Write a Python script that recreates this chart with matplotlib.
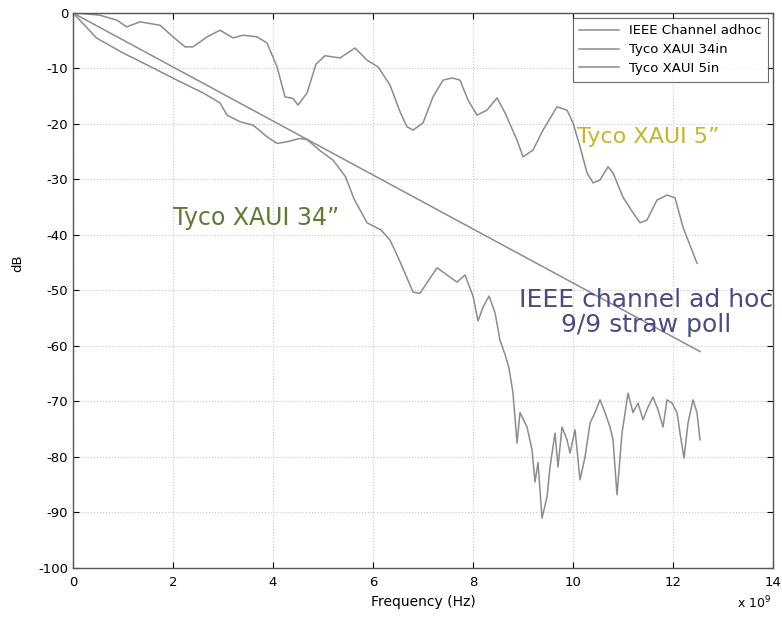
import numpy as np
import matplotlib.pyplot as plt

# frequency in GHz, loss in dB
ieee_f = [0.0, 12.54]
ieee_db = [0.0, -61.0]

tyco5_f = [0, 0.3, 0.54, 0.88, 1.07, 1.34, 1.74, 2.0, 2.24, 2.4, 2.68, 2.94, 3.2, 3.4,
           3.68, 3.88, 4.08, 4.24, 4.4, 4.5, 4.68, 4.86, 5.04, 5.34, 5.64, 5.88, 6.1,
           6.34, 6.54, 6.68, 6.8, 7.0, 7.2, 7.4, 7.58, 7.74, 7.9, 8.08, 8.28, 8.48,
           8.64, 8.88, 9.0, 9.2, 9.4, 9.68, 9.88, 10.0, 10.14, 10.28, 10.4, 10.54,
           10.7, 10.8, 11.0, 11.2, 11.34, 11.48, 11.68, 11.88, 12.04, 12.2, 12.48]
tyco5_db = [0, -0.2, -0.4, -1.3, -2.5, -1.6, -2.2, -4.3, -6.1, -6.1, -4.3, -3.1, -4.5,
            -4.0, -4.3, -5.4, -9.7, -15.1, -15.4, -16.6, -14.4, -9.2, -7.7, -8.1, -6.3,
            -8.5, -9.7, -13.0, -17.8, -20.5, -21.1, -19.8, -15.1, -12.1, -11.7, -12.1,
            -15.7, -18.4, -17.5, -15.3, -18.0, -22.9, -25.9, -24.7, -21.1, -16.9, -17.5,
            -19.8, -24.1, -28.8, -30.6, -30.1, -27.7, -28.8, -33.2, -36.0, -37.8, -37.3,
            -33.7, -32.8, -33.3, -38.6, -45.1]

tyco34_f = [0, 0.47, 1.0, 1.6, 2.08, 2.6, 2.94, 3.08, 3.34, 3.6, 3.88, 4.08, 4.28, 4.54,
            4.68, 4.94, 5.2, 5.45, 5.62, 5.88, 6.16, 6.34, 6.54, 6.8, 6.94, 7.08, 7.28,
            7.48, 7.68, 7.84, 8.0, 8.1, 8.2, 8.32, 8.44, 8.54, 8.64, 8.72, 8.8, 8.88,
            8.94, 9.08, 9.18, 9.24, 9.3, 9.38, 9.48, 9.54, 9.64, 9.7, 9.78, 9.88, 9.94,
            10.04, 10.14, 10.24, 10.34, 10.44, 10.54, 10.64, 10.74, 10.8, 10.88, 10.98,
            11.1, 11.2, 11.3, 11.4, 11.5, 11.6, 11.7, 11.8, 11.88, 11.98, 12.08, 12.14,
            12.22, 12.3, 12.4, 12.48, 12.54]
tyco34_db = [0, -4.5, -7.2, -9.9, -12.1, -14.4, -16.2, -18.4, -19.6, -20.2, -22.3, -23.5,
             -23.2, -22.6, -22.8, -24.8, -26.5, -29.5, -33.5, -37.8, -39.1, -40.9, -44.8,
             -50.3, -50.5, -48.6, -45.9, -47.2, -48.5, -47.2, -51.0, -55.5, -53.0, -51.0,
             -54.0, -59.0, -61.5, -64.0, -68.5, -77.5, -72.0, -74.6, -78.7, -84.5, -81.0,
             -91.0, -87.2, -81.8, -75.7, -81.8, -74.6, -76.9, -79.3, -75.1, -84.1, -80.0,
             -73.9, -72.0, -69.7, -72.0, -74.6, -76.9, -86.8, -75.7, -68.5, -72.0, -70.3,
             -73.3, -71.0, -69.2, -71.5, -74.6, -69.7, -70.3, -72.0, -75.7, -80.2, -73.9,
             -69.7, -72.0, -76.9]

xticks = [0, 2, 4, 6, 8, 10, 12, 14]
yticks = list(range(-100, 1, 10))

plt.rcParams['axes.unicode_minus'] = False

fig = plt.figure(figsize=(7.82, 6.19), dpi=100)
ax = fig.add_axes([0.0934, 0.0824, 0.8951, 0.8966])

line_col = '#8c8c8c'
ax.plot(np.array(ieee_f) * 1e9, ieee_db, color=line_col, lw=1.1, label='IEEE Channel adhoc')
ax.plot(np.array(tyco34_f) * 1e9, tyco34_db, color=line_col, lw=1.1, label='Tyco XAUI 34in')
ax.plot(np.array(tyco5_f) * 1e9, tyco5_db, color=line_col, lw=1.1, label='Tyco XAUI 5in')

ax.set_xlim(0, 14e9)
ax.set_ylim(-100, 0)
ax.set_xticks([t * 1e9 for t in xticks])
ax.set_xticklabels([str(t) for t in xticks])
ax.set_yticks(yticks)
ax.tick_params(direction='in', labelsize=9.5, length=4, top=True, right=True,
               labeltop=False, labelright=False)
ax.tick_params(axis='x', pad=6)
ax.grid(True, color='#c8c8c8', ls=':', lw=0.8)
for s in ax.spines.values():
    s.set_color('#555555')
    s.set_linewidth(1.0)

ax.set_xlabel('Frequency (Hz)', fontsize=10, labelpad=4)
ax.set_ylabel('dB', fontsize=9.5)
ax.yaxis.set_label_coords(-0.07, 0.55)
fig.text(0.965, 0.012, r'x 10$^9$', fontsize=9, ha='center', va='bottom')

leg = ax.legend(loc='upper right', fontsize=9.5, frameon=True, fancybox=False,
                edgecolor='#444444', borderaxespad=0.35, handlelength=3.0,
                labelspacing=0.45, borderpad=0.5)
leg.get_frame().set_linewidth(0.8)

ax.text(10.08e9, -22.3, 'Tyco XAUI 5\u201d', fontsize=16, color='#c9b52a',
        ha='left', va='center')
ax.text(2.0e9, -36.9, 'Tyco XAUI 34\u201d', fontsize=17, color='#5e7a34',
        ha='left', va='center')
ax.text(11.46e9, -54.0, 'IEEE channel ad hoc\n9/9 straw poll', fontsize=18, color='#4a4a86',
        ha='center', va='center', linespacing=1.05)

fig.savefig('out.png', dpi=100)
